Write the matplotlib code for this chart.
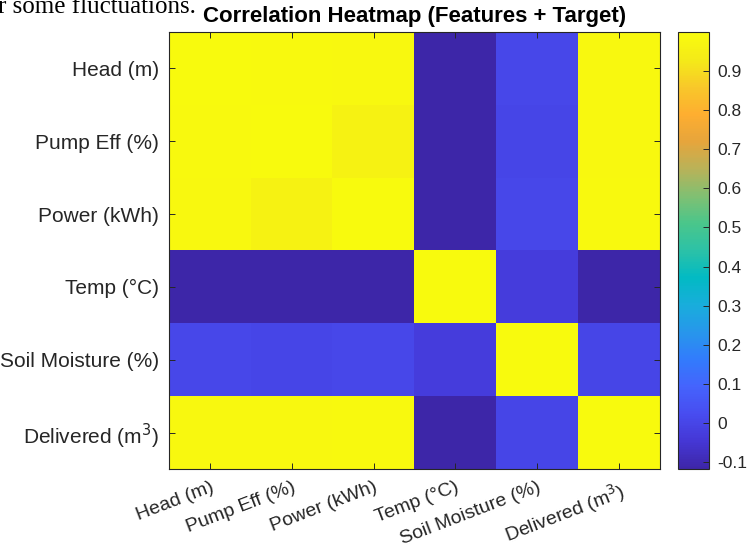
import numpy as np
import matplotlib
matplotlib.use("Agg")
import matplotlib.pyplot as plt
from matplotlib.colors import LinearSegmentedColormap
from matplotlib.transforms import ScaledTranslation

plt.rcParams['font.family'] = ['Liberation Sans', 'DejaVu Sans']

labels = ['Head (m)', 'Pump Eff (%)', 'Power (kWh)', 'Temp (°C)',
          'Soil Moisture (%)', 'Delivered (m$^3$)']

# correlation matrix (features + target)
head = [1.000, 0.995, 0.990, -0.118, 0.005, 0.990]
pump_eff = [0.995, 1.000, 0.965, -0.117, 0.004, 0.990]
power = [0.990, 0.965, 1.000, -0.118, 0.006, 0.995]
temp = [-0.118, -0.117, -0.118, 1.000, -0.030, -0.115]
soil = [0.005, 0.004, 0.006, -0.030, 1.000, 0.003]
delivered = [0.990, 0.990, 0.995, -0.115, 0.003, 1.000]

corr = np.array([head, pump_eff, power, temp, soil, delivered])

cbar_ticks = [-0.1, 0, 0.1, 0.2, 0.3, 0.4, 0.5, 0.6, 0.7, 0.8, 0.9]

# parula-like colormap
parula_pts = [
    (0.2422, 0.1504, 0.6603), (0.2706, 0.2147, 0.8364), (0.2813, 0.3006, 0.9414),
    (0.2699, 0.3892, 0.9906), (0.1963, 0.4847, 0.9892), (0.1540, 0.5902, 0.9218),
    (0.0952, 0.6798, 0.8598), (0.0067, 0.7296, 0.7665), (0.1717, 0.7592, 0.6550),
    (0.2906, 0.7758, 0.5440), (0.5044, 0.7513, 0.4477), (0.7242, 0.6989, 0.3464),
    (0.9035, 0.6463, 0.2341), (0.9956, 0.6816, 0.1884), (0.9728, 0.7829, 0.1634),
    (0.9585, 0.9194, 0.0949), (0.9763, 0.9831, 0.0538),
]
parula = LinearSegmentedColormap.from_list('parula', parula_pts, N=256)

txt = '#262626'

fig = plt.figure(figsize=(7.48, 5.5), dpi=100)
ax = fig.add_axes([0.2259, 0.1473, 0.6564, 0.7945])
cax = fig.add_axes([0.9064, 0.1473, 0.0414, 0.7945])

im = ax.imshow(corr, cmap=parula, vmin=corr.min(), vmax=corr.max(),
               aspect='auto', interpolation='nearest')

n = len(labels)
ax.set_xticks(range(n))
ax.set_yticks(range(n))
ax.set_yticklabels(labels, fontsize=15, color=txt)
ax.set_xticklabels(labels, fontsize=14, color=txt, rotation=21,
                   ha='right', va='top', rotation_mode='anchor')
shift = ScaledTranslation(7 / 100, 0, fig.dpi_scale_trans)
for lab in ax.get_xticklabels():
    lab.set_transform(lab.get_transform() + shift)

ax.tick_params(direction='in', length=4, width=0.7, color=txt,
               top=True, right=True)
ax.tick_params(axis='y', pad=7)
ax.tick_params(axis='x', pad=7)
for sp in ax.spines.values():
    sp.set_color(txt)
    sp.set_linewidth(0.8)

ax.set_title('Correlation Heatmap (Features + Target)', fontsize=16,
             fontweight='bold', color='black', pad=7)

cb = fig.colorbar(im, cax=cax, ticks=cbar_ticks)
cb.ax.set_yticklabels(['%g' % t for t in cbar_ticks])
cb.ax.tick_params(direction='in', length=4, width=0.7, color=txt,
                  labelsize=12.5, labelcolor=txt, pad=6)
cb.outline.set_edgecolor(txt)
cb.outline.set_linewidth(0.8)

# leftover line of document text above the figure
fig.text(-0.003, 0.9755, 'r some fluctuations.', fontsize=18,
         family=['Liberation Serif', 'DejaVu Serif'], color='black',
         va='baseline', ha='left')

fig.savefig('out.png', dpi=100)
